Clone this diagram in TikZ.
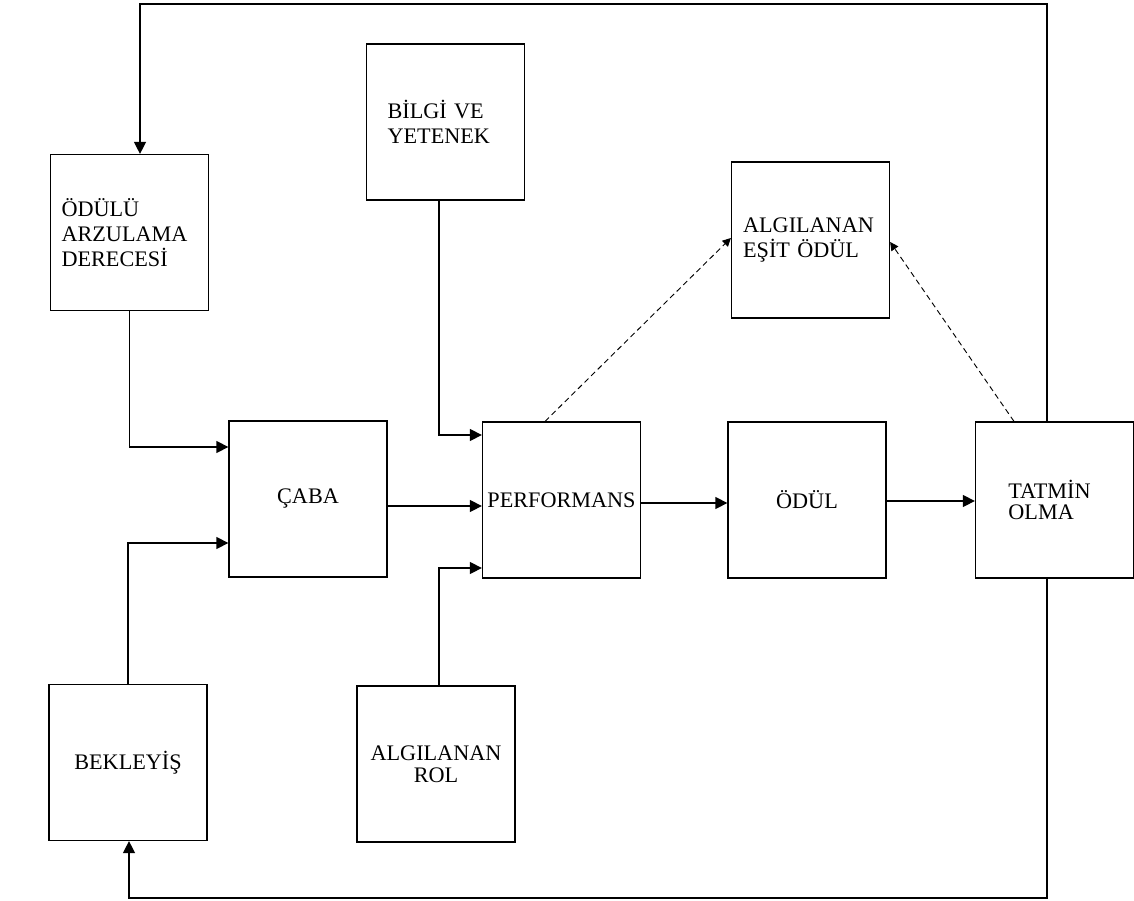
\documentclass[tikz,border=0pt]{standalone}
\usepackage{fontspec}
\setmainfont{Liberation Serif}
\usetikzlibrary{
  positioning,
  calc,
  arrows.meta
}

\begin{document}
\begin{tikzpicture}[x=0.019cm, y=-0.019cm,
	kutu/.style={draw, line width=0.75pt, minimum width=3cm, minimum height=2.96cm, inner sep=0pt, font=\fontsize{12}{13.5}\selectfont},
	solkutu/.style={kutu, align=left, text width=#1},
	ok/.style={line width=0.75pt, -{Triangle[length=6.5pt, width=6.5pt]}},
	kesikok/.style={line width=0.5pt, dash pattern=on 3pt off 2pt, -{Triangle[length=4.5pt, width=4.5pt]}}
	]
	\useasboundingbox (0,0) rectangle (1134,901);

	% kutular
	\node[solkutu=2.58cm] (odulu) at (129.5,232.5) {ÖDÜLÜ\\ARZULAMA\\DERECESİ};
	\node[solkutu=2.2cm] (bilgi) at (445.5,122) {BİLGİ VE\\YETENEK};
	\node[solkutu=2.56cm] (esit) at (810.5,240) {ALGILANAN\\EŞİT ÖDÜL};
	\node[kutu] (caba) at (308,499) {ÇABA};
	\node[kutu] (perf) at (561.5,500) {PERFORMANS};
	\node[kutu] (odul) at (807,500) {ÖDÜL};
	\node[solkutu=1.75cm, font=\fontsize{12}{11.5}\selectfont] (tatmin) at (1054.5,500) {TATMİN\\OLMA};
	\node[kutu] (bekleyis) at (128,762.5) {BEKLEYİŞ};
	\node[kutu, align=center, font=\fontsize{12}{11.8}\selectfont] (rol) at (436,764) {ALGILANAN\\ROL};

	% oklar
	\draw[ok] (odulu.south) |- ($(caba.west)+(0,-52)$);
	\draw[ok] (bekleyis.north) |- ($(caba.west)+(0,44)$);
	\draw[ok] ($(caba.east)+(0,7)$) -- ($(perf.west)+(0,6)$);
	\draw[ok] ($(bilgi.south)+(-6.5,0)$) |- ($(perf.west)+(0,-65)$);
	\draw[ok] ($(rol.north)+(3,0)$) |- ($(perf.west)+(0,68)$);
	\draw[ok] ($(perf.east)+(0,3)$) -- ($(odul.west)+(0,3)$);
	\draw[ok] ($(odul.east)+(0,1)$) -- ($(tatmin.west)+(0,1)$);
	\draw[kesikok] ($(perf.north)+(-16.5,0)$) -- ($(esit.west)+(0,-2)$);
	\draw[kesikok] ($(tatmin.north)+(-40.5,0)$) -- ($(esit.east)+(0,2)$);

	% geri besleme
	\coordinate (ustsag) at (1047,4);
	\coordinate (ustsol) at (140,4);
	\draw[ok] (tatmin.north -| ustsag) -- (ustsag) -- (ustsol) -- (odulu.north -| ustsol);
	\coordinate (altsag) at (1047,898);
	\coordinate (altsol) at (129,898);
	\draw[ok] (tatmin.south -| altsag) -- (altsag) -- (altsol) -- (bekleyis.south -| altsol);

\end{tikzpicture}
\end{document}
